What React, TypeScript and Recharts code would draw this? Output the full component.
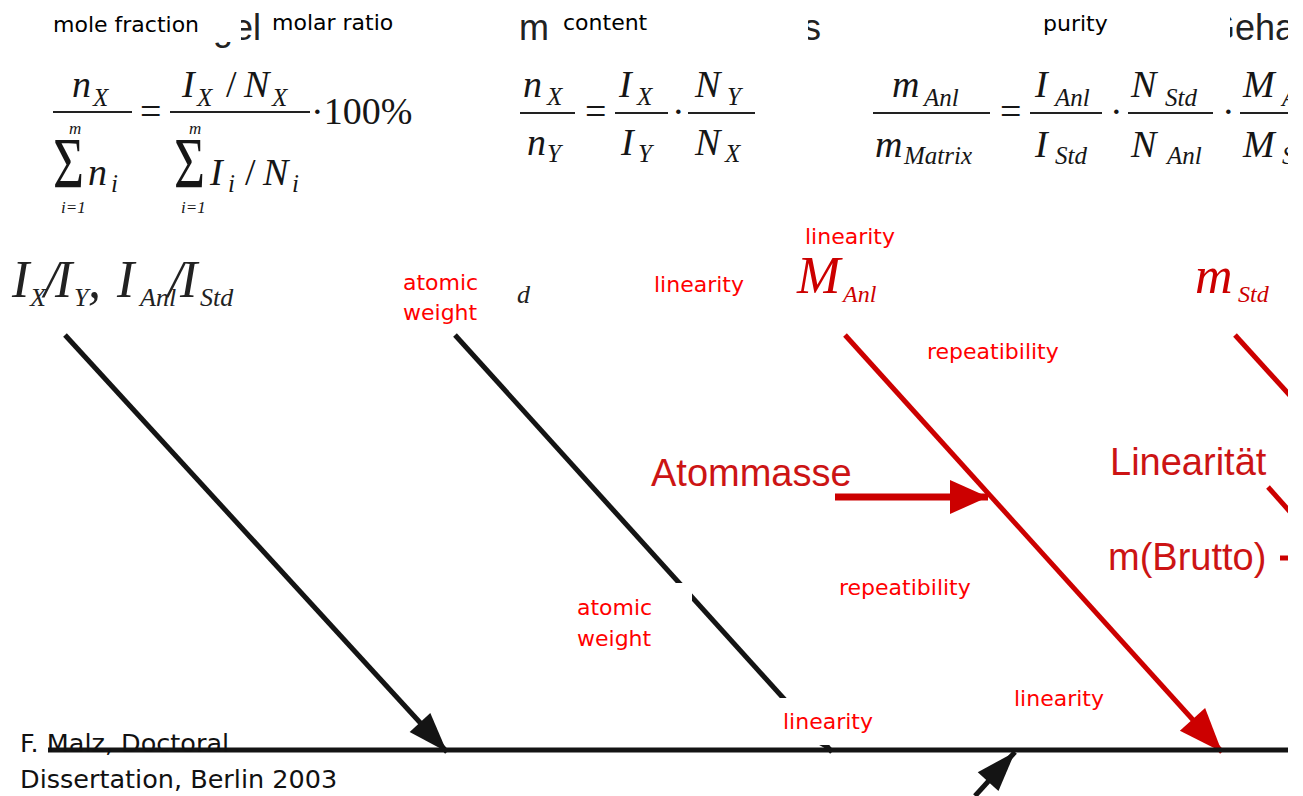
import React from "react";
import { ScatterChart, Scatter, XAxis, YAxis } from "recharts";

const WIDTH = 1303;
const HEIGHT = 796;

const SERIF = "'Liberation Serif', 'Times New Roman', serif";
const SANS = "'Liberation Sans', Arial, sans-serif";
const LABEL_FONT = "'DejaVu Sans', Verdana, sans-serif";
const INK = "#161616";
const DARK_RED = "#cc0000";

// picture units, y grows downwards
const segments = [
  { x1: 65, y1: 335, x2: 447, y2: 752, kind: "black", head: true },
  { x1: 455, y1: 335, x2: 832, y2: 752, kind: "black", head: true },
  { x1: 845, y1: 335, x2: 1222, y2: 752, kind: "red", head: true },
  { x1: 1235, y1: 335, x2: 1295, y2: 401, kind: "red", head: false },
  { x1: 48, y1: 750, x2: 1288, y2: 750, kind: "black", head: false },
  { x1: 975, y1: 796, x2: 1015, y2: 752, kind: "black", head: true },
  { x1: 835, y1: 497, x2: 988, y2: 497, kind: "redArrow", head: true },
  { x1: 1268, y1: 487, x2: 1292, y2: 514, kind: "red", head: false },
  { x1: 1280, y1: 558, x2: 1292, y2: 558, kind: "red", head: false },
];

// fraction bars of the three formulas
const fractionBars = [
  { x1: 53, x2: 132, y: 112 },
  { x1: 170, x2: 310, y: 112 },
  { x1: 520, x2: 575, y: 113 },
  { x1: 615, x2: 668, y: 113 },
  { x1: 688, x2: 755, y: 113 },
  { x1: 873, x2: 990, y: 113 },
  { x1: 1030, x2: 1102, y: 113 },
  { x1: 1128, x2: 1213, y: 113 },
  { x1: 1240, x2: 1295, y: 113 },
];

// leftovers of the original german headings
const fragments = [
  { x: 213, y: 40, t: "gel", k: "frag" },
  { x: 519, y: 40, t: "m", k: "frag" },
  { x: 803, y: 40, t: "s", k: "frag" },
  { x: 1207, y: 40, t: "Geha", k: "frag" },
  { x: 517, y: 303, t: "d", k: "W" },
];

const formula1 = [
  { x: 72, y: 97, t: "n", k: "v" },
  { x: 93, y: 106, t: "X", k: "s" },
  { x: 140, y: 124, t: "=", k: "o" },
  { x: 182, y: 97, t: "I", k: "v" },
  { x: 197, y: 106, t: "X", k: "s" },
  { x: 226, y: 97, t: "/", k: "o" },
  { x: 244, y: 97, t: "N", k: "v" },
  { x: 272, y: 106, t: "X", k: "s" },
  { x: 311, y: 124, t: "·100%", k: "o" },
  { x: 53, y: 187, t: "Σ", k: "S" },
  { x: 69, y: 134, t: "m", k: "l" },
  { x: 61, y: 213, t: "i=1", k: "l" },
  { x: 88, y: 185, t: "n", k: "v" },
  { x: 111, y: 192, t: "i", k: "s" },
  { x: 174, y: 187, t: "Σ", k: "S" },
  { x: 189, y: 134, t: "m", k: "l" },
  { x: 181, y: 213, t: "i=1", k: "l" },
  { x: 210, y: 185, t: "I", k: "v" },
  { x: 228, y: 192, t: "i", k: "s" },
  { x: 245, y: 185, t: "/", k: "o" },
  { x: 263, y: 185, t: "N", k: "v" },
  { x: 292, y: 192, t: "i", k: "s" },
];

const formula2 = [
  { x: 523, y: 97, t: "n", k: "v" },
  { x: 547, y: 105, t: "X", k: "s" },
  { x: 527, y: 155, t: "n", k: "v" },
  { x: 547, y: 162, t: "Y", k: "s" },
  { x: 585, y: 124, t: "=", k: "o" },
  { x: 619, y: 97, t: "I", k: "v" },
  { x: 637, y: 105, t: "X", k: "s" },
  { x: 621, y: 155, t: "I", k: "v" },
  { x: 638, y: 162, t: "Y", k: "s" },
  { x: 672, y: 124, t: "·", k: "o" },
  { x: 695, y: 97, t: "N", k: "v" },
  { x: 727, y: 105, t: "Y", k: "s" },
  { x: 695, y: 155, t: "N", k: "v" },
  { x: 725, y: 162, t: "X", k: "s" },
];

const formula3 = [
  { x: 892, y: 97, t: "m", k: "v" },
  { x: 924, y: 106, t: "Anl", k: "s" },
  { x: 875, y: 157, t: "m", k: "v" },
  { x: 904, y: 164, t: "Matrix", k: "s" },
  { x: 1000, y: 124, t: "=", k: "o" },
  { x: 1035, y: 97, t: "I", k: "v" },
  { x: 1055, y: 106, t: "Anl", k: "s" },
  { x: 1035, y: 157, t: "I", k: "v" },
  { x: 1055, y: 164, t: "Std", k: "s" },
  { x: 1110, y: 124, t: "·", k: "o" },
  { x: 1131, y: 97, t: "N", k: "v" },
  { x: 1165, y: 106, t: "Std", k: "s" },
  { x: 1131, y: 157, t: "N", k: "v" },
  { x: 1167, y: 164, t: "Anl", k: "s" },
  { x: 1222, y: 124, t: "·", k: "o" },
  { x: 1243, y: 97, t: "M", k: "v" },
  { x: 1282, y: 106, t: "Anl", k: "s" },
  { x: 1243, y: 157, t: "M", k: "v" },
  { x: 1282, y: 164, t: "Std", k: "s" },
];

// quantities written on the fishbone
const causes = [
  { x: 12, y: 297, t: "I", k: "V" },
  { x: 30, y: 306, t: "X", k: "W" },
  { x: 44, y: 297, t: "/", k: "V" },
  { x: 55, y: 297, t: "I", k: "V" },
  { x: 74, y: 306, t: "Y", k: "W" },
  { x: 88, y: 297, t: ",", k: "V" },
  { x: 117, y: 297, t: "I", k: "V" },
  { x: 140, y: 306, t: "Anl", k: "W" },
  { x: 168, y: 297, t: "/", k: "V" },
  { x: 180, y: 297, t: "I", k: "V" },
  { x: 200, y: 306, t: "Std", k: "W" },
  { x: 797, y: 293, t: "M", k: "R" },
  { x: 843, y: 302, t: "Anl", k: "Rs" },
  { x: 1195, y: 293, t: "m", k: "R" },
  { x: 1238, y: 302, t: "Std", k: "Rs" },
  { x: 651, y: 486, t: "Atommasse", k: "de" },
  { x: 1110, y: 475, t: "Linearität", k: "de" },
  { x: 1108, y: 570, t: "m(Brutto)", k: "de" },
];

// white boxes of the translation overlay
const masks = [
  { x: 40, y: 0, w: 201, h: 42 },
  { x: 262, y: 0, w: 255, h: 50 },
  { x: 549, y: 0, w: 259, h: 50 },
  { x: 822, y: 0, w: 408, h: 50 },
  { x: 392, y: 262, w: 123, h: 66 },
  { x: 560, y: 583, w: 132, h: 72 },
  { x: 700, y: 698, w: 180, h: 47 },
];

const labels = [
  { x: 53, y: 32, t: "mole fraction", k: "lab" },
  { x: 272, y: 30, t: "molar ratio", k: "lab" },
  { x: 563, y: 30, t: "content", k: "lab" },
  { x: 1043, y: 31, t: "purity", k: "lab" },
  { x: 403, y: 290, t: "atomic", k: "labR" },
  { x: 403, y: 320, t: "weight", k: "labR" },
  { x: 654, y: 292, t: "linearity", k: "labR" },
  { x: 805, y: 244, t: "linearity", k: "labR" },
  { x: 927, y: 359, t: "repeatibility", k: "labR" },
  { x: 577, y: 615, t: "atomic", k: "labR" },
  { x: 577, y: 646, t: "weight", k: "labR" },
  { x: 839, y: 595, t: "repeatibility", k: "labR" },
  { x: 1014, y: 706, t: "linearity", k: "labR" },
  { x: 783, y: 729, t: "linearity", k: "labR" },
  { x: 20, y: 752, t: "F. Malz, Doctoral", k: "foot" },
  { x: 20, y: 788, t: "Dissertation, Berlin 2003", k: "foot" },
];

const edgeMask = [{ x: 1288, y: 0, w: 15, h: HEIGHT }];

const LINE_STYLE: Record<string, { color: string; width: number; len: number; half: number }> = {
  black: { color: "#141414", width: 5, len: 40, half: 14 },
  red: { color: DARK_RED, width: 5, len: 44, half: 17 },
  redArrow: { color: DARK_RED, width: 7, len: 38, half: 17 },
  bar: { color: "#222", width: 2, len: 0, half: 0 },
};

const TEXT_STYLE: Record<string, any> = {
  v: { fontFamily: SERIF, fontStyle: "italic", fontSize: 38, fill: INK },
  s: { fontFamily: SERIF, fontStyle: "italic", fontSize: 25, fill: INK },
  o: { fontFamily: SERIF, fontSize: 38, fill: INK },
  l: { fontFamily: SERIF, fontStyle: "italic", fontSize: 17, fill: INK },
  S: { fontFamily: SERIF, fontSize: 71, fill: INK, textLength: 31, lengthAdjust: "spacingAndGlyphs" },
  V: { fontFamily: SERIF, fontStyle: "italic", fontSize: 52, fill: "#222" },
  W: { fontFamily: SERIF, fontStyle: "italic", fontSize: 26, fill: "#222" },
  R: { fontFamily: SERIF, fontStyle: "italic", fontSize: 52, fill: DARK_RED },
  Rs: { fontFamily: SERIF, fontStyle: "italic", fontSize: 24, fill: DARK_RED },
  de: { fontFamily: SANS, fontSize: 38, fill: "#cc1414" },
  frag: { fontFamily: SANS, fontSize: 36, fill: "#222" },
  lab: { fontFamily: LABEL_FONT, fontSize: 22, fill: "#000" },
  labR: { fontFamily: LABEL_FONT, fontSize: 22, fill: "#ff0000" },
  foot: { fontFamily: LABEL_FONT, fontSize: 25.5, fill: "#111" },
};

const segPoints = (s: any) => [
  { x: s.x1, y: s.y1 },
  { x: s.x2, y: s.y2, fx: s.x1, fy: s.y1, kind: s.kind, head: s.head },
];

const ArrowHead = (props: any) => {
  const { cx, cy, payload } = props;
  if (!payload || !payload.head) return <g />;
  const st = LINE_STYLE[payload.kind];
  const a = Math.atan2(payload.y - payload.fy, payload.x - payload.fx);
  const bx = cx - st.len * Math.cos(a);
  const by = cy - st.len * Math.sin(a);
  const px = -Math.sin(a) * st.half;
  const py = Math.cos(a) * st.half;
  return (
    <polygon
      points={`${cx},${cy} ${bx + px},${by + py} ${bx - px},${by - py}`}
      fill={st.color}
    />
  );
};

const TextMark = (props: any) => {
  const { cx, cy, payload } = props;
  return (
    <text x={cx} y={cy} {...TEXT_STYLE[payload.k]}>
      {payload.t}
    </text>
  );
};

const MaskMark = (props: any) => {
  const { cx, cy, payload } = props;
  return <rect x={cx} y={cy} width={payload.w} height={payload.h} fill="#fff" />;
};

const segmentSeries = (list: any[], prefix: string) =>
  list.map((s, i) => {
    const st = LINE_STYLE[s.kind];
    return (
      <Scatter
        key={prefix + i}
        data={segPoints(s)}
        fill={st.color}
        line={{ stroke: st.color, strokeWidth: st.width }}
        shape={ArrowHead}
        isAnimationActive={false}
      />
    );
  });

export default function App() {
  const bars = fractionBars.map((b) => ({ x1: b.x1, y1: b.y, x2: b.x2, y2: b.y, kind: "bar", head: false }));
  return (
    <div style={{ position: "absolute", left: 0, top: 0, width: WIDTH, height: HEIGHT, background: "#fff" }}>
      <ScatterChart width={WIDTH} height={HEIGHT} margin={{ top: 0, right: 0, bottom: 0, left: 0 }}>
        <XAxis type="number" dataKey="x" domain={[0, WIDTH]} allowDataOverflow hide />
        <YAxis type="number" dataKey="y" domain={[0, HEIGHT]} reversed allowDataOverflow hide />
        <Scatter data={fragments} shape={TextMark} isAnimationActive={false} />
        {segmentSeries(segments, "seg")}
        {segmentSeries(bars, "bar")}
        <Scatter data={formula1} shape={TextMark} isAnimationActive={false} />
        <Scatter data={formula2} shape={TextMark} isAnimationActive={false} />
        <Scatter data={formula3} shape={TextMark} isAnimationActive={false} />
        <Scatter data={causes} shape={TextMark} isAnimationActive={false} />
        <Scatter data={masks} shape={MaskMark} isAnimationActive={false} />
        <Scatter data={labels} shape={TextMark} isAnimationActive={false} />
        <Scatter data={edgeMask} shape={MaskMark} isAnimationActive={false} />
      </ScatterChart>
    </div>
  );
}
